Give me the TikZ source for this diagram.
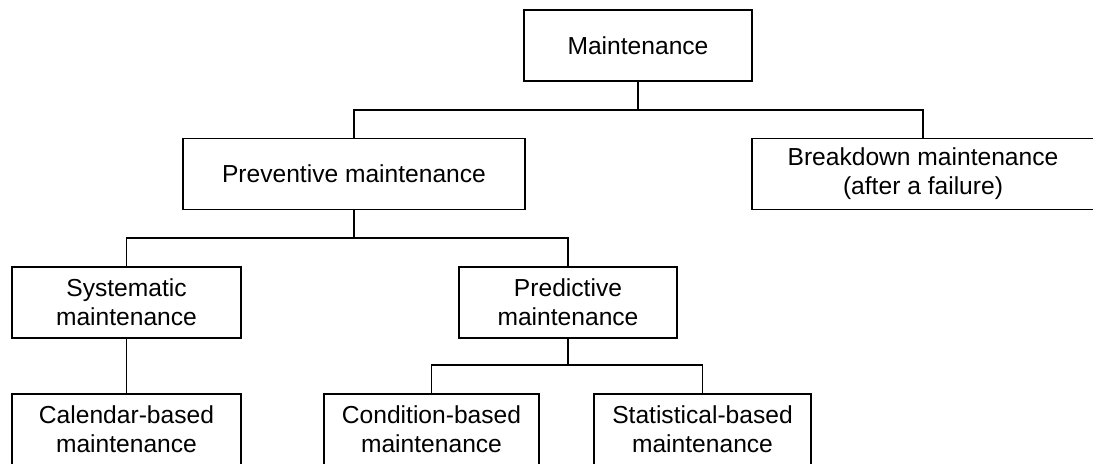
\documentclass[tikz,border=0pt]{standalone}
\usepackage{fontspec}
\setmainfont{Liberation Sans}
\usetikzlibrary{positioning}

\begin{document}
\begin{tikzpicture}[x=0.5pt, y=-0.5pt, line width=0.8pt]
        \tikzstyle{every node}=[draw, inner sep=0pt, align=center, minimum height=35.5pt,
            font=\fontsize{12.3pt}{14.5pt}\selectfont]

        \useasboundingbox (0,0) rectangle (1093,464);

        \node (main)  [minimum width=114pt]   at (638,45.5)   {Maintenance};
        \node (prev)  [minimum width=171pt]   at (354,174)    {Preventive maintenance};
        \node (brk)   [minimum width=171pt]   at (923,174)    {Breakdown maintenance\\(after a failure)};
        \node (sys)   [minimum width=114.5pt] at (126.5,302.5) {Systematic\\maintenance};
        \node (pred)  [minimum width=109pt]   at (568,302.5)  {Predictive\\maintenance};
        \node (cal)   [minimum width=114.5pt] at (126.5,429.5) {Calendar-based\\maintenance};
        \node (cond)  [minimum width=107.5pt] at (431.5,429.5) {Condition-based\\maintenance};
        \node (stat)  [minimum width=108.5pt] at (702.5,429.5) {Statistical-based\\maintenance};

        \coordinate (j1) at (638,110);
        \coordinate (j2) at (354,238);
        \coordinate (j3) at (568,365);

        \draw (main.south) -- (j1) -| (prev.north);
        \draw (j1) -| (brk.north);
        \draw (prev.south) -- (j2) -| (sys.north);
        \draw (j2) -| (pred.north);
        \draw (sys.south) -- (cal.north);
        \draw (pred.south) -- (j3) -| (cond.north);
        \draw (j3) -| (stat.north);

    \end{tikzpicture}
\end{document}
